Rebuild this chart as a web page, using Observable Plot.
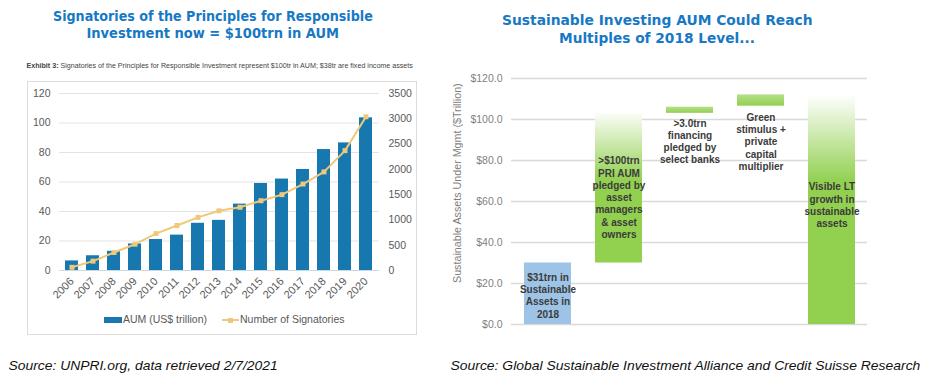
<!DOCTYPE html>
<html><head><meta charset="utf-8">
<script src="https://cdn.jsdelivr.net/npm/d3@7"></script>
<script src="https://cdn.jsdelivr.net/npm/@observablehq/plot@0.6"></script>
<style>
body{margin:0;background:#fff;width:929px;height:375px;position:relative;overflow:hidden;font-family:"Liberation Sans",Arial,sans-serif;}
.abs{position:absolute;}
.title{color:#1778c4;font-weight:bold;text-align:center;font-family:"DejaVu Sans",Verdana,sans-serif;white-space:nowrap;}
.fit{display:inline-block;white-space:nowrap;transform-origin:center;}
.src{font-style:italic;font-size:13px;line-height:15px;color:#111;white-space:nowrap;}
.leg{font-size:10.5px;color:#595959;line-height:12px;white-space:nowrap;}
</style></head><body>

<div class="abs title" style="left:0;width:426px;top:8px;font-size:13.5px;line-height:16.5px;">
  <span class="fit" data-w="320">Signatories of the Principles for Responsible</span><br>
  <span class="fit" data-w="253">Investment now = $100trn in AUM</span>
</div>
<div class="abs" style="left:0;width:440px;top:61px;text-align:center;font-size:7.5px;line-height:10px;color:#444;">
  <span class="fit" data-w="386"><b>Exhibit 3:</b> Signatories of the Principles for Responsible Investment represent $100tr in AUM; $38tr are fixed income assets</span>
</div>
<div class="abs" style="left:27px;top:81px;width:390px;height:254px;box-sizing:border-box;border:1px solid #dcdcdc;"></div>
<div class="abs" id="left" style="left:27px;top:81px;"></div>
<div class="abs" style="left:104px;top:317px;width:18px;height:6px;background:#1778b0;"></div>
<div class="abs leg" style="left:123px;top:313px;">AUM (US$ trillion)</div>
<div class="abs" style="left:222px;top:319px;width:17px;height:2px;background:#f0c87a;"></div>
<div class="abs" style="left:228px;top:317.5px;width:5px;height:5px;background:#f0c87a;"></div>
<div class="abs leg" style="left:240px;top:313px;">Number of Signatories</div>
<div class="abs src" style="left:0;width:287px;top:358px;text-align:center;"><span class="fit" data-w="269">Source: UNPRI.org, data retrieved 2/7/2021</span></div>

<div class="abs title" style="left:440px;width:434px;top:12px;font-size:14px;line-height:17.5px;">
  <span class="fit" data-w="311">Sustainable Investing AUM Could Reach</span><br>
  <span class="fit" data-w="196">Multiples of 2018 Level...</span>
</div>
<div class="abs" id="right" style="left:440px;top:58px;"></div>
<div class="abs" style="left:357px;width:200px;top:176px;height:14px;text-align:center;transform:rotate(-90deg);transform-origin:center;font-size:10.5px;line-height:14px;color:#7f7f7f;white-space:nowrap;">
  <span class="fit" data-w="200">Sustainable Assets Under Mgmt ($Trillion)</span>
</div>
<div class="abs src" style="left:440px;width:490px;top:358px;text-align:center;"><span class="fit" data-w="470">Source: Global Sustainable Investment Alliance and Credit Suisse Research</span></div>

<script>
// ---- Left chart data ----
const years = ["2006","2007","2008","2009","2010","2011","2012","2013","2014","2015","2016","2017","2018","2019","2020"];
const aum = [6.5, 10, 13, 18, 21, 24, 32, 34, 45, 59, 62, 68.5, 82, 86.5, 103.5];
const signatories = [63, 185, 355, 520, 730, 890, 1050, 1180, 1250, 1380, 1500, 1710, 1950, 2370, 3040];
const leftTicks = [0, 20, 40, 60, 80, 100, 120];
const rightTicks = [0, 500, 1000, 1500, 2000, 2500, 3000, 3500];

// ---- Right chart data ----
const steps = ["2018", "PRI", "Banks", "Stimulus", "LT"];
const stepLow = [0, 30, 103, 106.5, 0];
const stepHigh = [30, 103, 106, 112, 112];
const stepLabels = [
  "$31trn in\nSustainable\nAssets in\n2018",
  ">$100trn\nPRI AUM\npledged by\nasset\nmanagers\n& asset\nowners",
  ">3.0trn\nfinancing\npledged by\nselect banks",
  "Green\nstimulus +\nprivate\ncapital\nmultiplier",
  "Visible LT\ngrowth in\nsustainable\nassets"
];
const labelY = [14.3, 62.1, 89.5, 89.3, 58.3];
const usdTicks = [0, 20, 40, 60, 80, 100, 120];
const stepFills = ["#9dc3e6", "url(#gPRI)", "url(#gSmall)", "url(#gSmall)", "url(#gLT)"];

const sigMax = rightTicks[rightTicks.length - 1];
const aumMax = leftTicks[leftTicks.length - 1];
const toLeft = v => v * aumMax / sigMax;

const left = Plot.plot({
  width: 390, height: 254,
  marginLeft: 32, marginRight: 38, marginTop: 12, marginBottom: 65,
  style: {fontFamily: "Liberation Sans, Arial, sans-serif", background: "transparent"},
  x: {domain: years, paddingInner: 0.38, paddingOuter: 0.19, label: null},
  y: {domain: [0, aumMax], label: null},
  marks: [
    Plot.gridY(leftTicks.slice(1), {stroke: "#e3e3e3", strokeOpacity: 1}),
    Plot.ruleY([0], {stroke: "#cbd9e4"}),
    Plot.barY(years, {x: d => d, y: (d, i) => aum[i], fill: "#1778b0"}),
    Plot.line(years, {x: d => d, y: (d, i) => toLeft(signatories[i]), stroke: "#f0c87a", strokeWidth: 2}),
    Plot.dot(years, {x: d => d, y: (d, i) => toLeft(signatories[i]), symbol: "square", r: 2.8, fill: "#f0c87a"}),
    Plot.axisY(leftTicks, {anchor: "left", tickSize: 0, tickPadding: 9, fontSize: 10.5, color: "#595959", label: null}),
    Plot.axisY(rightTicks.map(toLeft), {anchor: "right", tickSize: 0, tickPadding: 9, fontSize: 10.5, color: "#595959", label: null,
      tickFormat: v => String(Math.round(v * sigMax / aumMax))}),
    Plot.axisX({tickRotate: -45, tickSize: 0, tickPadding: 9, fontSize: 11, color: "#595959", label: null})
  ]
});
document.getElementById("left").append(left);

const right = Plot.plot({
  width: 489, height: 280,
  marginLeft: 71, marginRight: 62, marginTop: 20, marginBottom: 14,
  style: {fontFamily: "Liberation Sans, Arial, sans-serif", background: "transparent"},
  x: {domain: steps, paddingInner: 0.34, paddingOuter: 0.17, axis: null},
  y: {domain: [0, 120], label: null},
  marks: [
    Plot.gridY(usdTicks, {stroke: "#d9d9d9", strokeOpacity: 1, strokeWidth: 1.3}),
    Plot.axisY(usdTicks, {tickSize: 0, tickPadding: 9, fontSize: 10.5, color: "#7f7f7f", label: null,
      tickFormat: d => "$" + d.toFixed(1)}),
    ...steps.map((s, i) => Plot.barY([i], {x: j => steps[j], y1: j => stepLow[j], y2: j => stepHigh[j], fill: stepFills[i]})),
    Plot.text(d3.range(steps.length), {x: i => steps[i], y: i => labelY[i], text: i => stepLabels[i],
      fontWeight: "bold", fontSize: 10, lineHeight: 1.23, fill: "#3b3b3b"})
  ]
});
const defs = d3.select(right).insert("defs", ":first-child");
function grad(id, stops) {
  const g = defs.append("linearGradient").attr("id", id).attr("x1", 0).attr("y1", 0).attr("x2", 0).attr("y2", 1);
  stops.forEach(([o, c]) => g.append("stop").attr("offset", o).attr("stop-color", c));
}
grad("gPRI", [[0, "#fbfdf8"], [0.45, "#92d050"], [1, "#92d050"]]);
grad("gLT", [[0, "#ffffff"], [0.38, "#92d050"], [1, "#92d050"]]);
grad("gSmall", [[0, "#b4e08a"], [1, "#92d050"]]);
document.getElementById("right").append(right);

document.querySelectorAll(".fit").forEach(el => {
  const w = el.offsetWidth;
  el.style.transform = `scaleX(${(+el.dataset.w) / w})`;
});
</script>
</body></html>
